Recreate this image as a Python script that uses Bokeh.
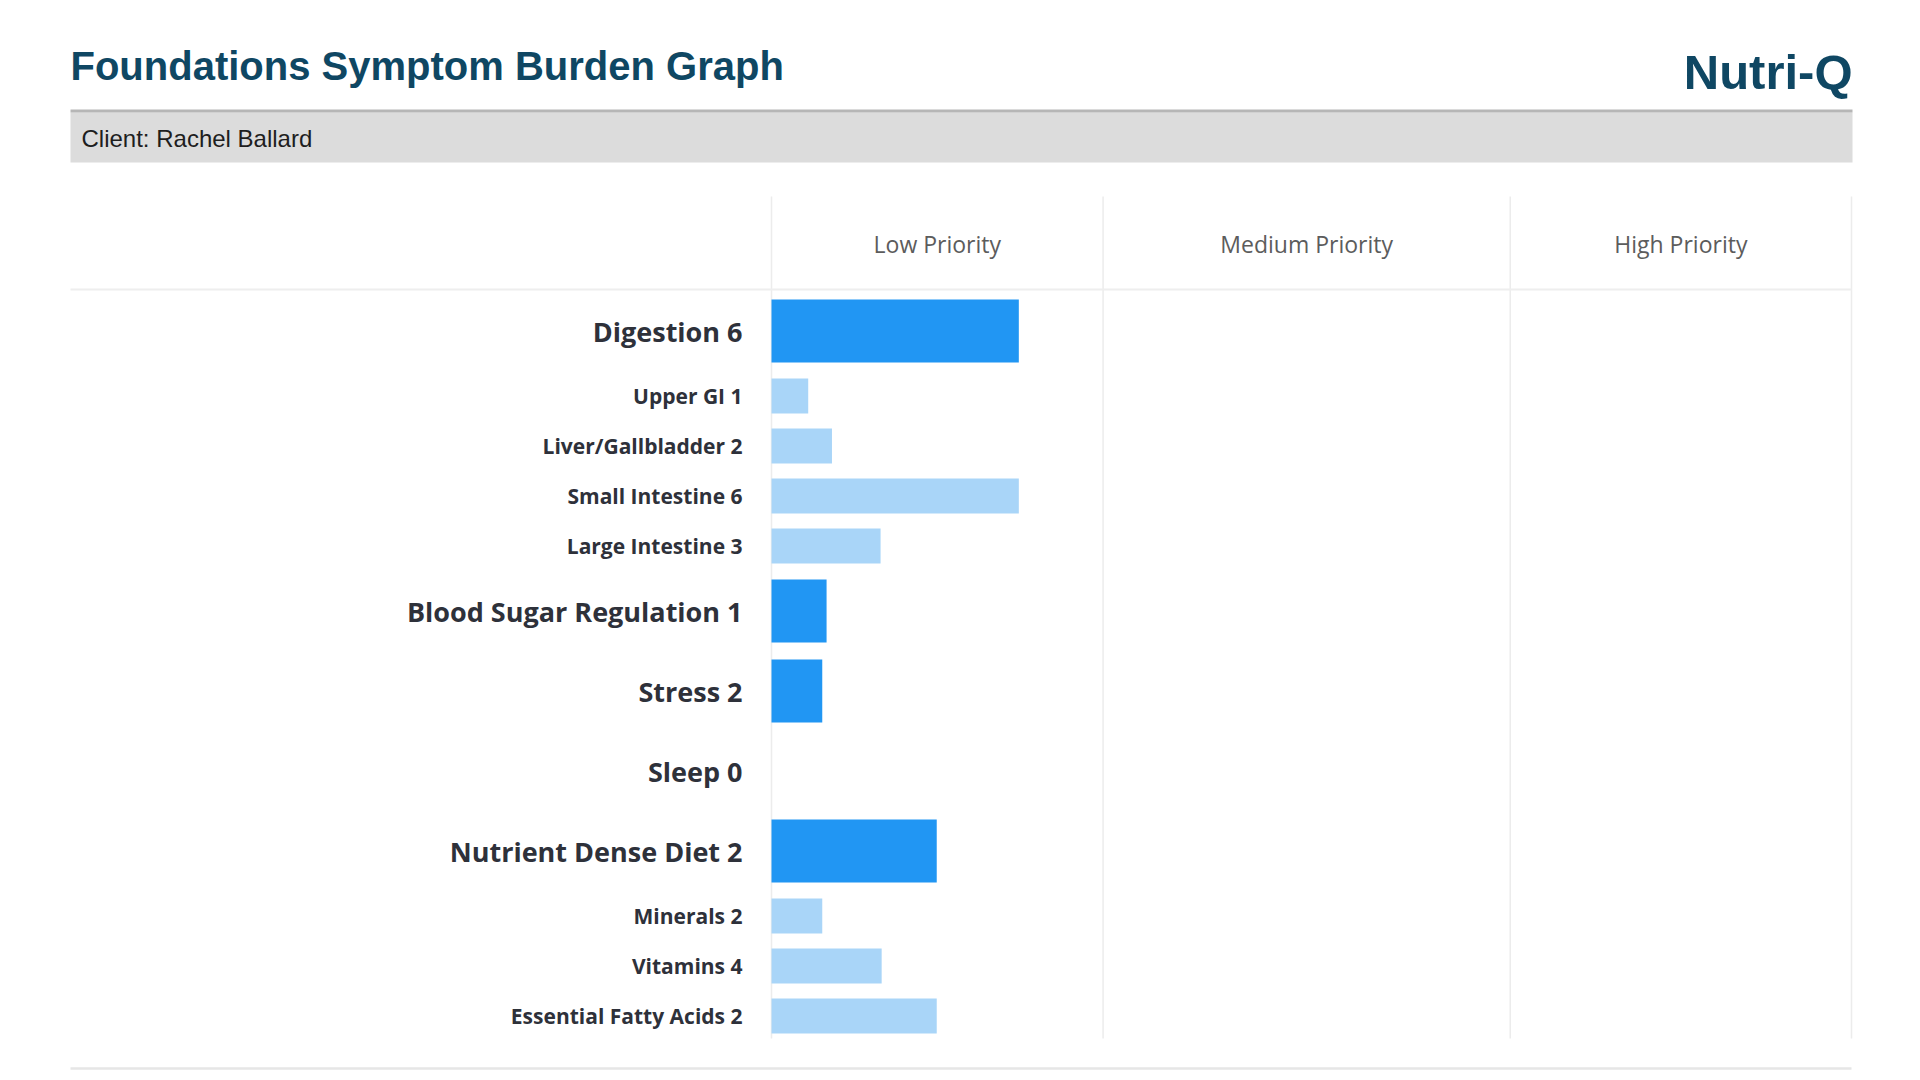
from bokeh.plotting import figure
from bokeh.models import ColumnDataSource, Range1d
from bokeh.core.properties import value
from bokeh.embed import file_html
from bokeh.resources import INLINE

# ---------------- data ----------------
title_text = "Foundations Symptom Burden Graph"
brand_text = "Nutri-Q"
client_text = "Client: Rachel Ballard"

categories = ["Digestion", "Upper GI", "Liver/Gallbladder", "Small Intestine",
              "Large Intestine", "Blood Sugar Regulation", "Stress", "Sleep",
              "Nutrient Dense Diet", "Minerals", "Vitamins", "Essential Fatty Acids"]
scores = [6, 1, 2, 6, 3, 1, 2, 0, 2, 2, 4, 2]
# bar length as percent of the full priority scale
bar_percent = [22.9, 3.4, 5.6, 22.9, 10.1, 5.1, 4.7, 0.0, 15.3, 4.7, 10.2, 15.3]
is_section = [True, False, False, False, False, True, True, True, True, False, False, False]

priority_labels = ["Low Priority", "Medium Priority", "High Priority"]
priority_edges = [0.0, 30.7, 68.4, 100.0]

# ---------------- layout / style ----------------
W, H = 1904, 1072
PX_PER_UNIT = 10.8
ZERO_PX = 771.0          # canvas x of value 0


def px2x(cx):
    return (cx - ZERO_PX) / PX_PER_UNIT


TOP = 290.5
SEC_H, SUB_H = 80.0, 50.0
SEC_BAR, SUB_BAR = 63.0, 35.0

centers, heights = [], []
y = TOP
for sec in is_section:
    band = SEC_H if sec else SUB_H
    centers.append(y + band / 2)
    heights.append(SEC_BAR if sec else SUB_BAR)
    y += band

DARK_BLUE = "#2196f3"
LIGHT_BLUE = "#a9d5f8"
TITLE_COL = "#0f4763"
LABEL_COL = "#2e313a"
GRID_COL = "#ececec"

p = figure(width=W, height=H, x_range=Range1d(px2x(0), px2x(W)),
           y_range=Range1d(H, 0), output_backend="svg", toolbar_location=None,
           x_axis_location=None, y_axis_location=None, min_border=0,
           background_fill_color="white", border_fill_color="white")
p.grid.visible = False
p.outline_line_color = None

# header band
p.quad(left=[px2x(70)], right=[px2x(1852)], top=[112], bottom=[162],
       fill_color="#dcdcdc", line_color=None)
p.quad(left=[px2x(70)], right=[px2x(1852)], top=[109], bottom=[112],
       fill_color="#b6b6b6", line_color=None)

# title texts (y = visual centre of capitals)
p.text(x=[px2x(70)], y=[65], text=[title_text], text_font=value("Liberation Sans"),
       text_font_style="bold", text_font_size="40px", text_color=TITLE_COL,
       text_align="left", text_baseline="alphabetic")
p.text(x=[px2x(1852)], y=[71], text=[brand_text], text_font=value("Liberation Sans"),
       text_font_style="bold", text_font_size="49px", text_color=TITLE_COL,
       text_align="right", text_baseline="alphabetic")
p.text(x=[px2x(81)], y=[138], text=[client_text], text_font=value("Liberation Sans"),
       text_font_size="24px", text_color="#1e1e1e",
       text_align="left", text_baseline="alphabetic")

# grid lines
p.segment(x0=priority_edges, x1=priority_edges, y0=[196] * 4, y1=[1038] * 4,
          line_color=GRID_COL, line_width=1.5)
p.segment(x0=[px2x(70)], x1=[priority_edges[-1]], y0=[289], y1=[289],
          line_color="#eeeeee", line_width=2)
p.segment(x0=[px2x(70)], x1=[priority_edges[-1]], y0=[1068], y1=[1068],
          line_color="#e6e6e6", line_width=2.5)

# priority headers
hx = [(priority_edges[i] + priority_edges[i + 1]) / 2 for i in range(3)]
p.text(x=hx, y=[243] * 3, text=priority_labels, text_font=value("Open Sans"),
       text_font_size="23px", text_color="#5c5c5c", text_align="center",
       text_baseline="alphabetic")

# bars
src = ColumnDataSource(dict(
    y=centers,
    right=bar_percent,
    left=[0.0] * len(categories),
    h=heights,
    color=[DARK_BLUE if s else LIGHT_BLUE for s in is_section],
    label=[f"{c} {s}" for c, s in zip(categories, scores)],
    size=["27px" if s else "21px" for s in is_section],
))
p.hbar(y="y", left="left", right="right", height="h", fill_color="color",
       line_color=None, source=src)
p.text(x=px2x(742), y="y", text="label", text_font=value("Open Sans"),
       text_font_style="bold", text_font_size="size", text_color=LABEL_COL,
       text_align="right", text_baseline="alphabetic", source=src)

open("out.html", "w").write(file_html(p, INLINE))
